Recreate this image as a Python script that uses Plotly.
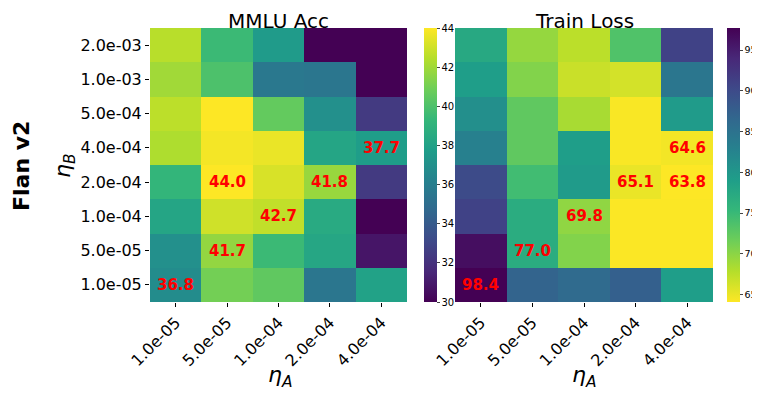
import plotly.graph_objects as go

eta_a = ["1.0e-05", "5.0e-05", "1.0e-04", "2.0e-04", "4.0e-04"]
eta_b = ["2.0e-03", "1.0e-03", "5.0e-04", "4.0e-04", "2.0e-04", "1.0e-04", "5.0e-05", "1.0e-05"]

mmlu_acc = [
    [42.5, 39.5, 37.6, 30.0, 30.0],
    [42.0, 40.0, 35.6, 35.5, 30.0],
    [42.6, 44.0, 40.6, 37.0, 32.4],
    [42.3, 43.8, 43.6, 38.2, 37.7],
    [39.2, 44.0, 43.2, 41.8, 32.4],
    [38.2, 43.0, 42.7, 38.5, 30.0],
    [37.0, 41.7, 39.5, 38.3, 30.8],
    [36.8, 41.0, 40.5, 35.5, 38.0],
]

train_loss = [
    [77.5, 69.5, 67.5, 73.5, 91.0],
    [79.0, 70.5, 66.8, 66.3, 84.5],
    [81.0, 72.5, 68.5, 64.3, 79.5],
    [83.0, 72.5, 79.0, 64.3, 64.6],
    [90.0, 74.5, 79.5, 65.1, 63.8],
    [91.0, 77.0, 69.8, 64.2, 64.2],
    [96.5, 77.0, 70.5, 64.2, 64.2],
    [98.4, 87.0, 86.0, 87.5, 79.0],
]

acc_labels = [(0, 7, "36.8"), (1, 6, "41.7"), (2, 5, "42.7"), (1, 4, "44.0"), (3, 4, "41.8"), (4, 3, "37.7")]
loss_labels = [(0, 7, "98.4"), (1, 6, "77.0"), (2, 5, "69.8"), (3, 4, "65.1"), (4, 4, "63.8"), (4, 3, "64.6")]

# page body has an 8px default margin; size the figure to fill the rest of the window
OFF = 8
W, H = 760 - OFF, 398 - OFF
FONT = "DejaVu Sans"

def fx(p):
    return (p - OFF) / W

def fy(p):
    return 1 - (p - OFF) / H

top, bot = 28, 302
ydom = [fy(bot), fy(top)]
cb_len = (bot - top) / H
cb_y = fy((top + bot) / 2)

fig = go.Figure()
fig.add_trace(go.Heatmap(
    z=mmlu_acc, x=eta_a, y=eta_b, colorscale="Viridis", zmin=30, zmax=44,
    xaxis="x", yaxis="y",
    colorbar=dict(x=fx(424), xanchor="left", xpad=0, ypad=0, thickness=13, len=cb_len, lenmode="fraction",
                  y=cb_y, yanchor="middle", outlinewidth=0, ticks="outside", ticklen=3,
                  tickvals=[30, 32, 34, 36, 38, 40, 42, 44], tickfont=dict(size=10, family=FONT, color="black")),
))
fig.add_trace(go.Heatmap(
    z=train_loss, x=eta_a, y=eta_b, colorscale="Viridis", reversescale=True, zmin=64.1, zmax=97.7,
    xaxis="x2", yaxis="y2",
    colorbar=dict(x=fx(727), xanchor="left", xpad=0, ypad=0, thickness=13, len=cb_len, lenmode="fraction",
                  y=cb_y, yanchor="middle", outlinewidth=0, ticks="outside", ticklen=3,
                  tickvals=[65, 70, 75, 80, 85, 90, 95], tickfont=dict(size=9.5, family=FONT, color="black")),
))

axis_common = dict(type="category", showgrid=False, zeroline=False, showline=False, automargin=False,
                   ticklen=4, tickwidth=1, tickcolor="black", tickfont=dict(size=16, family=FONT, color="black"))

fig.update_layout(
    width=W, height=H, margin=dict(l=0, r=0, t=0, b=0, autoexpand=False),
    paper_bgcolor="white", plot_bgcolor="white",
    font=dict(family=FONT, color="black"),
    xaxis=dict(domain=[fx(150), fx(407)], anchor="y", tickangle=-45, ticks="outside", **axis_common),
    yaxis=dict(domain=ydom, anchor="x", autorange="reversed", ticks="outside", **axis_common),
    xaxis2=dict(domain=[fx(455), fx(713)], anchor="y2", tickangle=-45, ticks="outside", **axis_common),
    yaxis2=dict(domain=ydom, anchor="x2", autorange="reversed", showticklabels=False, ticks="", **axis_common),
)

ann = []
for (ci, ri, t) in acc_labels:
    ann.append(dict(x=ci, y=ri, xref="x", yref="y", text=f"<b>{t}</b>", showarrow=False,
                    font=dict(size=15, color="red", family=FONT)))
for (ci, ri, t) in loss_labels:
    ann.append(dict(x=ci, y=ri, xref="x2", yref="y2", text=f"<b>{t}</b>", showarrow=False,
                    font=dict(size=15, color="red", family=FONT)))
ann.append(dict(x=fx(278), y=1.0, xref="paper", yref="paper", text="MMLU Acc", showarrow=False,
                font=dict(size=20, family=FONT), xanchor="center", yanchor="top", borderpad=0))
ann.append(dict(x=fx(584), y=1.0, xref="paper", yref="paper", text="Train Loss", showarrow=False,
                font=dict(size=20, family=FONT), xanchor="center", yanchor="top", borderpad=0))
ann.append(dict(x=fx(21), y=fy(166), xref="paper", yref="paper", text="<b>Flan v2</b>", showarrow=False,
                font=dict(size=22, family=FONT), textangle=-90, xanchor="center", yanchor="middle"))
ann.append(dict(x=fx(280), y=fy(376), xref="paper", yref="paper", text="<i>η<sub>A</sub></i>", showarrow=False,
                font=dict(size=22, family=FONT), xanchor="center", yanchor="middle"))
ann.append(dict(x=fx(584), y=fy(376), xref="paper", yref="paper", text="<i>η<sub>A</sub></i>", showarrow=False,
                font=dict(size=22, family=FONT), xanchor="center", yanchor="middle"))
ann.append(dict(x=fx(64), y=fy(166), xref="paper", yref="paper", text="<i>η<sub>B</sub></i>", showarrow=False,
                font=dict(size=22, family=FONT), textangle=-90, xanchor="center", yanchor="middle"))
fig.update_layout(annotations=ann)

fig.write_html("out.html")
